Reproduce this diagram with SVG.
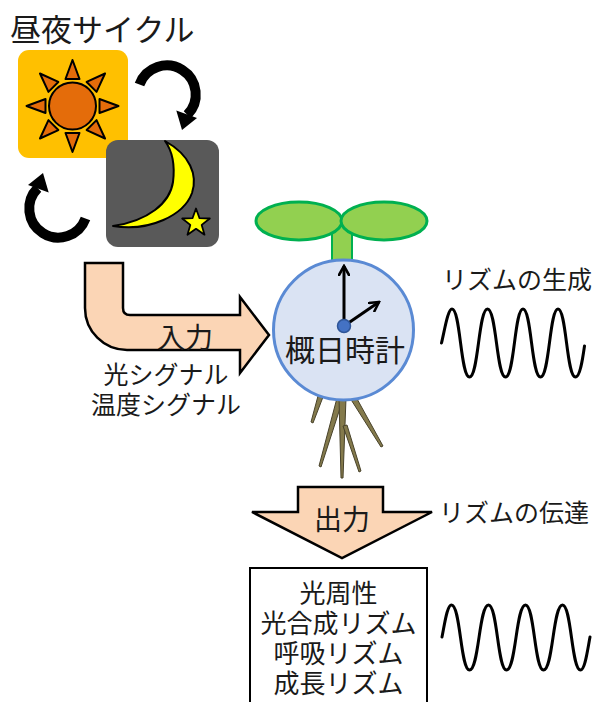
<svg xmlns="http://www.w3.org/2000/svg" width="596" height="702" viewBox="0 0 596 702">
  <defs>
    <style>
      text { font-family: "Noto Sans CJK JP", "Noto Sans", sans-serif; fill: #1a1a1a; }
      .t31 { font-size: 31px; }
      .t30 { font-size: 30px; }
      .t28 { font-size: 28px; }
      .t25 { font-size: 25px; }
      .t26 { font-size: 26px; }
      .mid { text-anchor: middle; }
      .ray { fill: #E46C0A; stroke: #000; stroke-width: 2; stroke-linejoin: round; }
      .cyc { fill: none; stroke: #000; stroke-width: 10; }
      .big-arrow { fill: #FBD5B5; stroke: #000; stroke-width: 2.5; stroke-linejoin: miter; }
      .leaf { fill: #92D050; stroke: #00B050; stroke-width: 3; }
      .root { fill: #847A4C; stroke: #48422A; stroke-width: 1; stroke-linejoin: round; }
      .hand { fill: none; stroke: #000; stroke-width: 3; }
      .wave { fill: none; stroke: #000; stroke-width: 3; stroke-linecap: round; }
    </style>
    <marker id="open" viewBox="0 0 12 12" refX="10" refY="6" markerWidth="12" markerHeight="12" markerUnits="userSpaceOnUse" orient="auto">
      <path d="M1,1 L10,6 L1,11" fill="none" stroke="#000" stroke-width="2.6" stroke-linecap="round" stroke-linejoin="miter"/>
    </marker>
  </defs>

  <rect width="596" height="702" fill="#fff"/>

  <!-- day/night cycle -->
  <g id="title">
    <text class="t31" x="10" y="41">昼夜サイクル</text>
  </g>

  <g id="sun">
    <rect x="18" y="50" width="110" height="108" rx="11" fill="#FFC000"/>
    <g transform="translate(72.5,106)">
      <polygon class="ray" points="-7,-27 7,-27 0,-46"/>
      <polygon class="ray" points="-7,-27 7,-27 0,-46" transform="rotate(45)"/>
      <polygon class="ray" points="-7,-27 7,-27 0,-46" transform="rotate(90)"/>
      <polygon class="ray" points="-7,-27 7,-27 0,-46" transform="rotate(135)"/>
      <polygon class="ray" points="-7,-27 7,-27 0,-46" transform="rotate(180)"/>
      <polygon class="ray" points="-7,-27 7,-27 0,-46" transform="rotate(225)"/>
      <polygon class="ray" points="-7,-27 7,-27 0,-46" transform="rotate(270)"/>
      <polygon class="ray" points="-7,-27 7,-27 0,-46" transform="rotate(315)"/>
      <circle r="23.5" fill="#E46C0A" stroke="#000" stroke-width="2"/>
    </g>
  </g>

  <g id="moon">
    <rect x="106" y="140" width="113" height="107" rx="12" fill="#595959"/>
    <path d="M165,141 C190,155 198,175 192,193 C184,215 150,232 113,226 C148,221 170,203 173,182 C175,166 173,152 165,141 Z" fill="#FFFF00" stroke="#000" stroke-width="2" stroke-linejoin="round"/>
    <polygon points="196,208.5 199.5,218.2 209.8,218.5 201.7,224.9 204.5,234.7 196,228.8 187.5,234.7 190.3,224.9 182.2,218.5 192.5,218.2" fill="#FFFF00" stroke="#000" stroke-width="1.8" stroke-linejoin="round"/>
  </g>

  <!-- cycle arrows -->
  <g id="cycle-arrows">
    <path class="cyc" d="M139.5,84.5 A29,29 0 1 1 187.3,114.9"/>
    <polygon points="176.3,110.6 197.0,118.1 182,130" fill="#000"/>
    <g transform="rotate(180,112.5,151.5)">
      <path class="cyc" d="M139.5,84.5 A29,29 0 1 1 187.3,114.9"/>
      <polygon points="176.3,110.6 197.0,118.1 182,130" fill="#000"/>
    </g>
  </g>

  <!-- input arrow -->
  <g id="input">
    <path class="big-arrow" d="M85,263 L123,263 L123,308 Q123,315 130,315 L240,315 L240,297 L269,335 L240,373 L240,350 L127,350 A42,42 0 0 1 85,308 Z"/>
    <text class="t28 mid" x="185" y="348">入力</text>
    <text class="t25 mid" x="166" y="384">光シグナル</text>
    <text class="t25 mid" x="166" y="414">温度シグナル</text>
  </g>

  <!-- seedling with clock -->
  <g id="seedling">
    <rect x="332" y="226" width="20" height="40" fill="#92D050" stroke="#00B050" stroke-width="2"/>
    <ellipse class="leaf" cx="299" cy="221" rx="43" ry="19"/>
    <ellipse class="leaf" cx="384" cy="221" rx="43" ry="19"/>
    <g id="roots">
      <polygon class="root" points="318,396 323,397 313,423 311,422"/>
      <polygon class="root" points="337,398 343,399 321,467 319,466"/>
      <polygon class="root" points="339,398 346,398 343,478 341,478"/>
      <polygon class="root" points="343,426 347,425 361,471 359,472"/>
      <polygon class="root" points="350,398 356,397 383,446 381,447"/>
    </g>
  </g>

  <g id="clock">
    <circle cx="343.5" cy="330" r="70" fill="#DAE3F3" stroke="#5A8AD4" stroke-width="3"/>
    <line class="hand" x1="344" y1="326" x2="344" y2="266" marker-end="url(#open)"/>
    <line class="hand" x1="344" y1="326" x2="379" y2="302" marker-end="url(#open)"/>
    <circle cx="344" cy="326" r="6.5" fill="#4472C4" stroke="#2F5597" stroke-width="1.5"/>
    <text class="t30 mid" x="345" y="361">概日時計</text>
  </g>

  <g id="rhythm-gen">
    <text class="t25 mid" x="517" y="289">リズムの生成</text>
    <path class="wave" d="M441.5,343 C444.5,331 447.7,309 452,309 C460.5,309 460.5,377 469.5,377 C478.5,377 478.5,309 487.5,309 C496.5,309 496.5,377 505.5,377 C514.5,377 514.5,309 523,309 C531.5,309 531.5,377 540.5,377 C549.5,377 549.5,309 558,309 C566.5,309 566.5,377 575.5,377 C580,377 582.5,360 584.5,346"/>
  </g>

  <!-- output arrow -->
  <g id="output">
    <path class="big-arrow" d="M298,487 L383,487 L383,512 L432,512 L342,558 L252,512 L298,512 Z"/>
    <text class="t28 mid" x="342" y="530">出力</text>
    <text class="t25 mid" x="514" y="522">リズムの伝達</text>
  </g>

  <g id="outputs-box">
    <rect x="250" y="568" width="177" height="150" fill="#fff" stroke="#000" stroke-width="2"/>
    <text class="t26 mid" x="338.5" y="603">光周性</text>
    <text class="t26 mid" x="338.5" y="633">光合成リズム</text>
    <text class="t26 mid" x="338.5" y="663">呼吸リズム</text>
    <text class="t26 mid" x="338.5" y="693">成長リズム</text>
  </g>

  <g id="rhythm-out">
    <path class="wave" d="M442,637 C444.5,625 447,605 451.5,605 C460.5,605 460.5,670 469.5,670 C479,670 479,605 488.5,605 C497.5,605 497.5,670 506.5,670 C516,670 516,605 525.5,605 C534.5,605 534.5,670 543.5,670 C553,670 553,605 562.5,605 C571.5,605 571.5,670 580.5,670 C585,670 587.5,650 590,637"/>
  </g>
</svg>
